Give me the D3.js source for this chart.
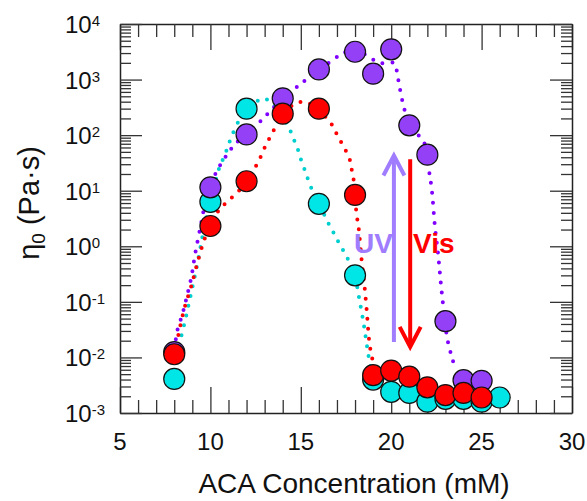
<!DOCTYPE html>
<html lang="en">
<head>
    <meta charset="UTF-8">
    <title>Zero-shear viscosity vs ACA</title>
    <style>
        body{ margin: 0; background: #fff; }
        svg{ display: block; font-family: "Liberation Sans", Arial, sans-serif; }
        .frame path.domain{ stroke: #222; stroke-width: 1.5; }
        .frame line{ stroke: #333; stroke-width: 1.3; }
    </style>
    <script src="https://cdn.jsdelivr.net/npm/d3@7"></script>
</head>
<body>
<script>
    // ---- data ----
    const concPurple = [8, 10, 12, 14, 16, 18, 19, 20, 21, 22, 23, 24, 25]
    const etaPurple  = [0.0125, 11.5, 103, 460, 1520, 3170, 1275, 3500, 150, 44.5, 0.045, 0.0039, 0.0038]

    const concRed = [8, 10, 12, 14, 16, 18, 19, 20, 21, 22, 23, 24, 25]
    const etaRed  = [0.0114, 2.32, 14.8, 243, 299, 8.4, 0.0048, 0.0058, 0.0045, 0.0029, 0.0021, 0.0023, 0.0019]

    const concCyan = [8, 10, 12, 16, 18, 19, 20, 21, 22, 23, 24, 25, 26]
    const etaCyan  = [0.0041, 6.3, 299, 5.8, 0.30, 0.0040, 0.0024, 0.0023, 0.0016, 0.0018, 0.0018, 0.0016, 0.0019]

    // dotted guide curves, [conc, log10(eta)]
    const fitPurple = [[8.05,-1.85],[8.13,-1.57],[8.47,-1.2],[8.7,-0.9],[8.95,-0.55],[9.15,-0.15],[9.45,0.35],[9.74,0.8],
        [10.29,1.31],[10.9,1.64],[11.32,1.82],[12.1,2.07],[12.84,2.27],[13.3,2.43],[14.0,2.65],[14.83,2.88],[15.33,3.01],
        [16.1,3.2],[16.89,3.38],[17.35,3.48],[18.2,3.5],[18.9,3.38],[19.34,3.3],[19.8,3.3],[20.17,3.3],[20.3,3.17],
        [20.39,3.0],[20.49,2.82],[20.71,2.49],[21.0,2.2],[21.5,2.0],[21.83,1.86],[22.09,1.36],[22.24,1.03],[22.42,0.35],
        [22.6,-0.16],[22.8,-0.84],[23.12,-1.69],[23.38,-2.02],[23.53,-2.2]]
    const fitRed = [[8.05,-1.95],[8.22,-1.61],[8.6,-1.07],[8.93,-0.73],[9.24,-0.35],[9.7,0.15],[10.34,0.59],[10.79,0.76],
        [11.3,0.91],[12.0,1.15],[12.48,1.42],[12.74,1.58],[12.98,1.76],[13.24,1.93],[13.52,2.1],[14.0,2.35],[14.64,2.56],
        [15.14,2.6],[15.6,2.55],[16.61,2.24],[16.89,2.08],[17.17,1.91],[17.44,1.75],[17.69,1.58],[17.8,1.4],[17.9,1.25],
        [18.09,0.56],[18.18,0.38],[18.24,0.2],[18.38,-0.3],[18.5,-0.64],[18.64,-1.13],[18.83,-1.82],[19.1,-2.2],[19.47,-2.53]]
    const fitCyan = [[8.2,-1.95],[8.34,-1.69],[8.6,-1.34],[8.83,-1.0],[9.05,-0.67],[9.28,-0.31],[9.7,0.4],[10.0,0.8],
        [10.48,1.4],[10.71,1.58],[10.93,1.76],[11.13,1.94],[11.6,2.27],[12.2,2.5],[12.93,2.66],[13.6,2.5],[14.4,2.09],
        [14.62,1.92],[14.83,1.75],[15.0,1.57],[15.2,1.39],[15.38,1.22],[15.58,1.05],[16.0,0.76],[16.34,0.54],[16.61,0.36],
        [16.89,0.2],[17.17,0.02],[17.5,-0.16],[17.72,-0.32],[18.0,-0.53],[18.18,-0.85],[18.27,-1.01],[18.46,-1.36],
        [18.6,-1.66],[18.79,-2.05],[19.2,-2.59]]

    const xTicks = [5, 10, 15, 20, 25, 30]
    const yDecades = [-3, -2, -1, 0, 1, 2, 3, 4]

    // UV / Vis annotation arrows: [conc, eta tail, eta head]
    const arrowUV  = [20.15, 0.019, 43]
    const arrowVis = [21.05, 37, 0.0155]

    // ---- layout ----
    const W = 587, H = 501
    const mLeft = 120, mRight = 572, mTop = 24, mBottom = 413

    const svg = d3.select("body").append("svg").attr("width", W).attr("height", H)

    const x = d3.scaleLinear().domain([5, 30]).range([mLeft, mRight])
    const y = d3.scaleLog().domain([1e-3, 1e4]).range([mBottom, mTop])

    const xMinor = d3.range(5, 31).filter(v => v % 5 !== 0)
    const yMajor = yDecades.map(e => Math.pow(10, e))
    const yMinor = []
    yDecades.slice(0, -1).forEach(e => {
        for (let k = 2; k <= 9; k++) yMinor.push(k * Math.pow(10, e))
    })

    // frame: ticks point inward on all four sides
    function frame(axis, tx, ty, major, minor, bigLen, smallLen){
        const g = svg.append("g").attr("class", "frame").attr("transform", `translate(${tx},${ty})`)
        g.call(axis.tickValues(major).tickSize(-bigLen).tickSizeOuter(0).tickFormat(""))
        const g2 = svg.append("g").attr("class", "frame").attr("transform", `translate(${tx},${ty})`)
        g2.call(axis.tickValues(minor).tickSize(-smallLen).tickSizeOuter(0).tickFormat(""))
        g2.select(".domain").remove()
    }
    frame(d3.axisBottom(x), 0, mBottom, xTicks, xMinor, 26, 13)
    frame(d3.axisTop(x), 0, mTop, xTicks, xMinor, 26, 13)
    frame(d3.axisLeft(y), mLeft, 0, yMajor, yMinor, 22, 11)
    frame(d3.axisRight(y), mRight, 0, yMajor, yMinor, 22, 11)

    // tick labels
    svg.append("g").selectAll("text").data(xTicks).enter().append("text")
        .attr("x", d => x(d)).attr("y", 450)
        .attr("text-anchor", "middle").attr("font-size", 24).attr("fill", "#111")
        .text(d => d)

    const yl = svg.append("g").selectAll("text").data(yDecades).enter().append("text")
        .attr("x", 65).attr("y", d => y(Math.pow(10, d)) + 9)
        .attr("font-size", 24).attr("fill", "#111")
    yl.append("tspan").text("10")
    yl.append("tspan").attr("dy", -7).attr("font-size", 15).text(d => d < 0 ? "-" + (-d) : d)

    // axis titles
    svg.append("text").attr("x", 354).attr("y", 493)
        .attr("text-anchor", "middle").attr("font-size", 28).attr("fill", "#111")
        .text("ACA Concentration (mM)")

    const yt = svg.append("text").attr("transform", "translate(39,203) rotate(-90)")
        .attr("text-anchor", "middle").attr("font-size", 29).attr("fill", "#111")
    yt.append("tspan").text("η")
    yt.append("tspan").attr("font-size", 19).attr("dy", 6).text("0")
    yt.append("tspan").attr("dy", -6).text(" (Pa·s)")

    // dotted guide curves
    const line = d3.line()
        .x(d => x(d[0]))
        .y(d => y(Math.pow(10, d[1])))
        .curve(d3.curveCatmullRom.alpha(0.5))

    const curves = [
        {pts: fitCyan, color: "#00cfcf"},
        {pts: fitRed, color: "#ff0000"},
        {pts: fitPurple, color: "#8000ff"}
    ]
    svg.append("g").selectAll("path").data(curves).enter().append("path")
        .attr("d", d => line(d.pts))
        .attr("fill", "none")
        .attr("stroke", d => d.color)
        .attr("stroke-width", 4)
        .attr("stroke-linecap", "round")
        .attr("stroke-dasharray", "0 10")

    // arrows
    function arrow(a, color){
        const ax = x(a[0]), y0 = y(a[1]), y1 = y(a[2])
        const dir = y1 < y0 ? 1 : -1
        const g = svg.append("g").attr("stroke", color).attr("stroke-width", 4).attr("fill", "none")
        g.append("line").attr("x1", ax).attr("x2", ax).attr("y1", y0).attr("y2", y1 + dir * 1)
        g.append("path")
            .attr("stroke-linejoin", "miter")
            .attr("d", `M${ax - 10.5},${y1 + dir * 20} L${ax},${y1} L${ax + 10.5},${y1 + dir * 20}`)
    }
    arrow(arrowUV, "#a07cff")
    arrow(arrowVis, "#ff0000")

    svg.append("text").attr("x", 354).attr("y", 253)
        .attr("font-size", 28).attr("font-weight", "bold").attr("fill", "#a07cff").text("UV")
    svg.append("text").attr("x", 413).attr("y", 253)
        .attr("font-size", 28).attr("font-weight", "bold").attr("fill", "#ff0000").text("Vis")

    // markers: cyan underneath, then purple, red on top
    const series = [
        {c: concCyan, v: etaCyan, fill: "#00e6e6"},
        {c: concPurple, v: etaPurple, fill: "#9440f6"},
        {c: concRed, v: etaRed, fill: "#ff0000"}
    ]
    series.forEach(s => {
        svg.append("g").selectAll("circle")
            .data(s.c.map((c, i) => [c, s.v[i]]))
            .enter().append("circle")
            .attr("cx", d => x(d[0]))
            .attr("cy", d => y(d[1]))
            .attr("r", 10.5)
            .attr("fill", s.fill)
            .attr("stroke", "#111")
            .attr("stroke-width", 1.2)
    })
</script>
</body>
</html>
